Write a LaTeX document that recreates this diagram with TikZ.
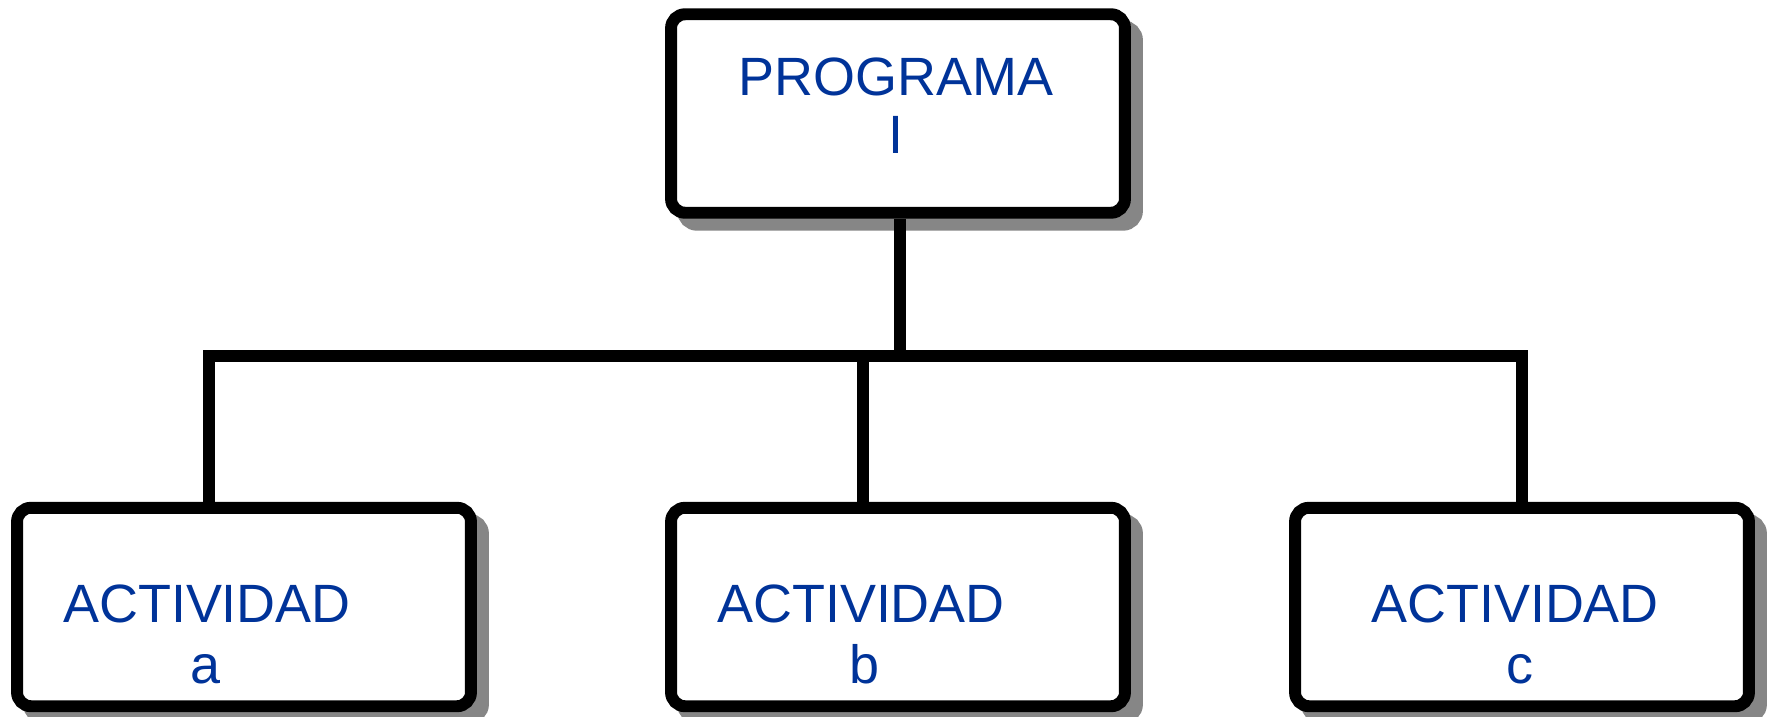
\documentclass[tikz,border=0pt]{standalone}
\usepackage{fontspec}
\setmainfont{Liberation Sans}
\usepackage{tikz}
\usetikzlibrary{positioning}
\definecolor{textblue}{RGB}{0,51,153}
\definecolor{shadowgray}{RGB}{134,134,134}

\begin{document}
\begin{tikzpicture}[x=0.02cm,y=-0.02cm,line join=miter]
  \tikzstyle{box}=[rectangle,rounded corners=0.28cm,line width=6.8pt,draw=black,fill=white,
                   minimum width=9.08cm,minimum height=3.97cm,inner sep=0pt,
                   preaction={draw=shadowgray,fill=shadowgray,line width=6.8pt,
                   transform canvas={shift={(12,12)}}}]
  \tikzstyle{label}=[anchor=base,inner sep=0pt,text=textblue,
                     font=\fontsize{30.7pt}{36pt}\selectfont]
  \tikzstyle{conn}=[line width=6.8pt,draw=black]
  \useasboundingbox (0,0) rectangle (1769,717);
  \node [box] (prog) at (898,113.5) {};
  \node [box] (a1) at (244,607) {};
  \node [box] (b1) at (898,607) {};
  \node [box] (c1) at (1522,607) {};
  \node [label] (prog1) at (896,95) {PROGRAMA};
  \node [label] (prog2) at (896,153) {I};
  \node [label] (a2) at (207,622) {ACTIVIDAD};
  \node [label] (a3) at (205,683) {a};
  \node [label] (b2) at (861,622) {ACTIVIDAD};
  \node [label] (b3) at (864,683) {b};
  \node [label] (c2) at (1515,622) {ACTIVIDAD};
  \node [label] (c3) at (1520,683) {c};
  \coordinate (ja) at (209,356);
  \coordinate (jb) at (863,356);
  \coordinate (jc) at (1522,356);
  \draw [conn] (prog.south -| 900,0) -- (900,356);
  \draw [conn] (a1.north -| ja) -- (ja) -- (jc) -- (c1.north -| jc);
  \draw [conn] (jb) -- (b1.north -| jb);
\end{tikzpicture}
\end{document}
